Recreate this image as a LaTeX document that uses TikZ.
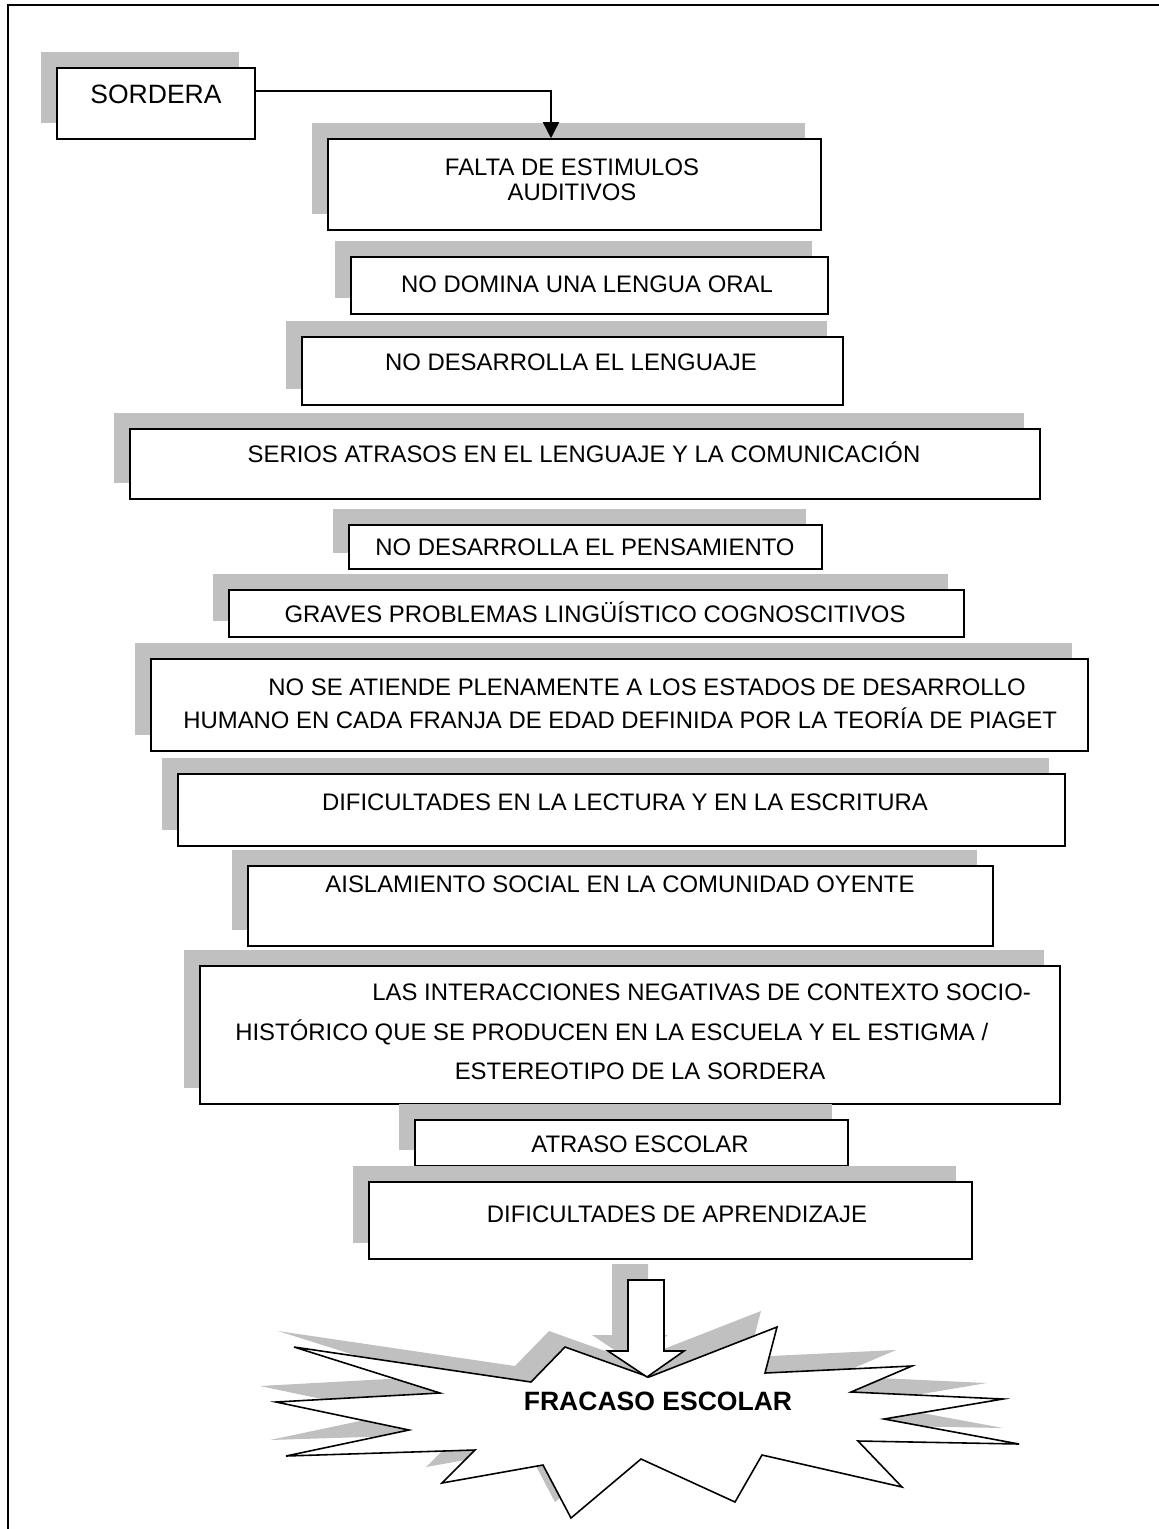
\documentclass[tikz,border=0pt]{standalone}
\usepackage{fontspec}
\setmainfont{Liberation Sans}
\usetikzlibrary{fit,arrows.meta}

\definecolor{gris}{RGB}{192,192,192}

\tikzset{
	caja/.style={draw, line width=0.9pt, fill=white, inner sep=0pt},
	sombra/.style={fill=gris},
	borde/.style={draw, line width=0.9pt, fill=white},
	txt/.style={anchor=base, inner sep=0pt, font=\fontsize{13.6}{16}\selectfont},
	grande/.style={txt, font=\fontsize{15.1}{18}\selectfont},
	flecha/.style={line width=0.9pt, -{Triangle[length=0.32cm,width=0.32cm]}},
}

% caja con sombra gris: nombre, x1, y1, x2, y2
\newcommand{\caja}[5]{%
	\fill[sombra] (#2-16,#3-16) rectangle (#4-16,#5-16);
	\node[caja, fit={(#2,#3) (#4,#5)}] (#1) {};
}
\newcommand{\estrella}[1]{%
	\path[#1] (294,1347) -- (531,1382) -- (565,1347) -- (649,1377) -- (777,1327)
		-- (765,1373) -- (912,1366) -- (851,1392) -- (1003,1399) -- (884,1419)
		-- (1019,1444) -- (858,1441) -- (902,1487) -- (762,1455) -- (735,1502)
		-- (641,1459) -- (571,1518) -- (543,1465) -- (442,1483) -- (475,1450)
		-- (286,1456) -- (409,1430) -- (276,1402) -- (440,1393) -- cycle;
}
\newcommand{\flechagorda}[1]{%
	\path[#1] (628,1280) -- (664,1280) -- (664,1351) -- (684,1351) -- (647,1377)
		-- (608,1351) -- (628,1351) -- cycle;
}

\begin{document}
\begin{tikzpicture}[x=0.02cm, y=-0.02cm]
	\useasboundingbox (0,0) rectangle (1159,1529);
	\draw[line width=1pt] (8,1529) -- (8,5) -- (1159,5);

	\caja{sordera}{57}{68}{255}{139}
	\caja{falta}{328}{139}{821}{230}
	\caja{oral}{351}{257}{828}{314}
	\caja{lenguaje}{302}{337}{843}{405}
	\caja{atrasos}{130}{429}{1040}{499}
	\caja{pensamiento}{349}{525}{822}{569}
	\caja{graves}{229}{590}{964}{637}
	\caja{piaget}{151}{659}{1088}{751}
	\caja{lectura}{178}{774}{1065}{846}
	\caja{aislamiento}{248}{866}{993}{946}
	\caja{interacciones}{200}{966}{1060}{1104}
	\caja{escolar}{415}{1120}{848}{1166}
	\caja{aprendizaje}{369}{1182}{972}{1259}

	\node[grande] (t-sordera) at (156,103) {SORDERA};
	\node[txt] (t-falta1) at (572,175) {FALTA DE ESTIMULOS};
	\node[txt] (t-falta2) at (572,200) {AUDITIVOS};
	\node[txt] (t-oral) at (587,292) {NO DOMINA UNA LENGUA ORAL};
	\node[txt] (t-lenguaje) at (571,370) {NO DESARROLLA EL LENGUAJE};
	\node[txt] (t-atrasos) at (584,462) {SERIOS ATRASOS EN EL LENGUAJE Y LA COMUNICACIÓN};
	\node[txt] (t-pensamiento) at (585,555) {NO DESARROLLA EL PENSAMIENTO};
	\node[txt] (t-graves) at (595,622) {GRAVES PROBLEMAS LINGÜÍSTICO COGNOSCITIVOS};
	\node[txt, anchor=base west] (t-piaget1) at (268,695) {NO SE ATIENDE PLENAMENTE A LOS ESTADOS DE DESARROLLO};
	\node[txt, anchor=base west] (t-piaget2) at (183,728) {HUMANO EN CADA FRANJA DE EDAD DEFINIDA POR LA TEORÍA DE PIAGET};
	\node[txt] (t-lectura) at (625,810) {DIFICULTADES EN LA LECTURA Y EN LA ESCRITURA};
	\node[txt] (t-aislamiento) at (620,892) {AISLAMIENTO SOCIAL EN LA COMUNIDAD OYENTE};
	\node[txt, anchor=base west] (t-inter1) at (372,1000) {LAS INTERACCIONES NEGATIVAS DE CONTEXTO SOCIO-};
	\node[txt, anchor=base west] (t-inter2) at (235,1040) {HISTÓRICO QUE SE PRODUCEN EN LA ESCUELA Y EL ESTIGMA /};
	\node[txt] (t-inter3) at (640,1079) {ESTEREOTIPO DE LA SORDERA};
	\node[txt] (t-escolar) at (640,1152) {ATRASO ESCOLAR};
	\node[txt] (t-aprendizaje) at (677,1222) {DIFICULTADES DE APRENDIZAJE};

	% de la sordera a la primera caja
	\coordinate (codo) at (551,91);
	\draw[flecha] (sordera.east |- codo) -- (codo) -- (codo |- falta.north);

	% estallido final
	\estrella{sombra, shift={(-16,-16)}}
	\estrella{borde}
	\flechagorda{sombra, shift={(-16,-16)}}
	\flechagorda{borde}
	\node[font=\fontsize{15.1}{18}\selectfont\bfseries] (fracaso) at (658,1401) {FRACASO ESCOLAR};
\end{tikzpicture}
\end{document}
